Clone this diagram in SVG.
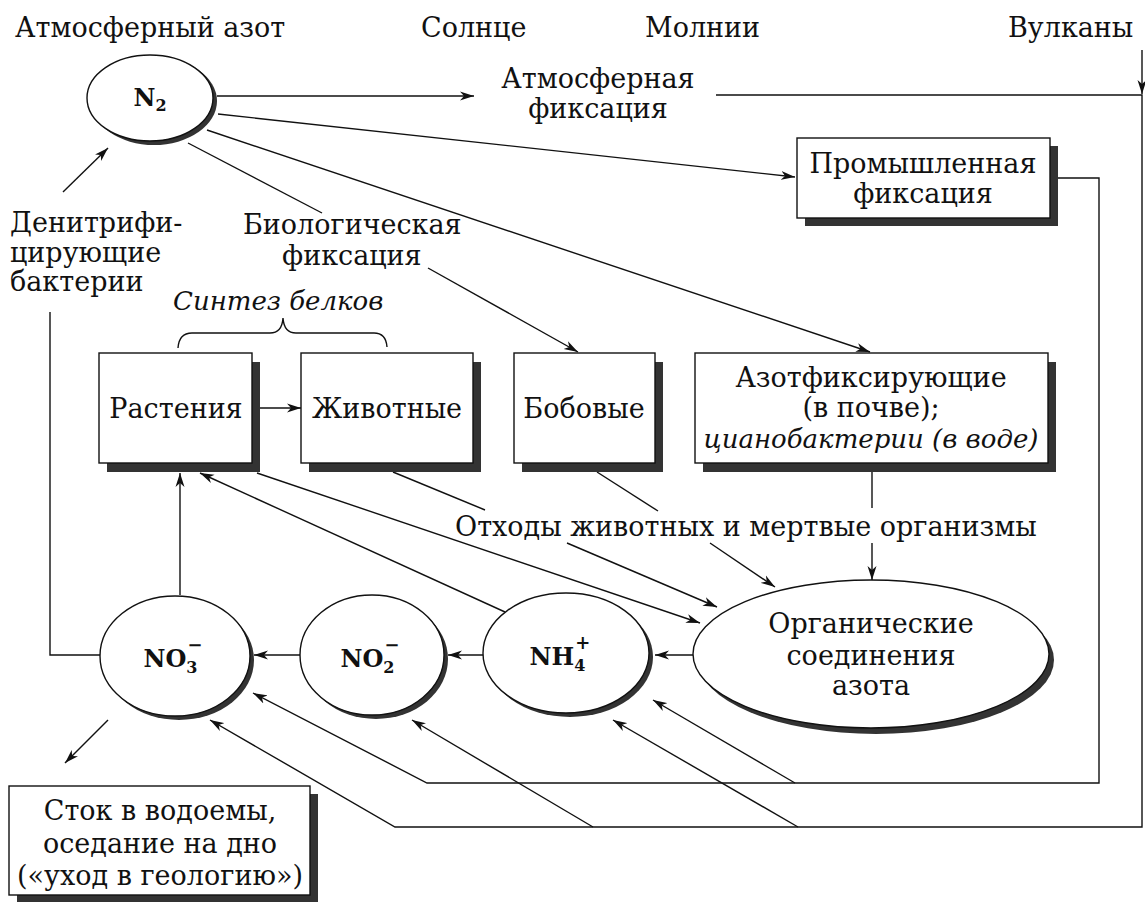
<svg xmlns="http://www.w3.org/2000/svg" width="1145" height="902" viewBox="0 0 1145 902">
<defs>
<style>
text{font-family:"DejaVu Serif","Liberation Serif",serif;font-size:27px;fill:#111}
.m{text-anchor:middle}
.i{font-style:italic;font-size:26px}
.b{font-weight:bold;font-size:24px}
.box{fill:#fff;stroke:#111;stroke-width:1.4}
.sh{fill:#333}
.ln{fill:none;stroke:#111;stroke-width:1.4}
</style>
<marker id="ar" markerUnits="userSpaceOnUse" markerWidth="16" markerHeight="10" refX="14" refY="5" orient="auto">
<path d="M0,0.5 L14,5 L0,9.5 L4,5 z" fill="#111"/>
</marker>
</defs>
<rect width="1145" height="902" fill="#fff"/>

<g id="labels">
<text x="15" y="37">Атмосферный азот</text>
<text x="421" y="37">Солнце</text>
<text x="645" y="37">Молнии</text>
<text x="1008" y="37">Вулканы</text>
<text class="m" x="598" y="88">Атмосферная</text>
<text class="m" x="598" y="118">фиксация</text>
<text x="10" y="232">Денитрифи-</text>
<text x="10" y="262">цирующие</text>
<text x="10" y="291">бактерии</text>
<text x="243" y="234">Биологическая</text>
<text x="282" y="265">фиксация</text>
<text class="i" x="173" y="310">Синтез белков</text>
<text x="455" y="536">Отходы животных и мертвые организмы</text>
</g>

<g id="connectors">
<path class="ln" d="M178,348 Q179,333 192,333 L270,333 Q282,333 283,318 Q284,333 296,333 L374,333 Q386,333 387,347"/>
<line class="ln" x1="217" y1="96" x2="474" y2="96" marker-end="url(#ar)"/>
<polyline class="ln" points="716,95 1142,95 1142,827 395,827 210,720" marker-end="url(#ar)"/>
<line class="ln" x1="1142" y1="50" x2="1142" y2="94" marker-end="url(#ar)"/>
<line class="ln" x1="218" y1="114" x2="795" y2="177" marker-end="url(#ar)"/>
<line class="ln" x1="207" y1="130" x2="870" y2="352" marker-end="url(#ar)"/>
<line class="ln" x1="188" y1="143" x2="322" y2="213"/>
<line class="ln" x1="428" y1="268" x2="578" y2="352" marker-end="url(#ar)"/>
<polyline class="ln" points="1050,178 1099,178 1099,783 427,783 253,693" marker-end="url(#ar)"/>
<line class="ln" x1="795" y1="783" x2="653" y2="700" marker-end="url(#ar)"/>
<line class="ln" x1="593" y1="827" x2="412" y2="720" marker-end="url(#ar)"/>
<line class="ln" x1="798" y1="827" x2="613" y2="720" marker-end="url(#ar)"/>
<line class="ln" x1="63" y1="192" x2="108" y2="148" marker-end="url(#ar)"/>
<polyline class="ln" points="100,655 50,655 50,312"/>
<line class="ln" x1="180" y1="595" x2="180" y2="473" marker-end="url(#ar)"/>
<line class="ln" x1="505" y1="612" x2="200" y2="473" marker-end="url(#ar)"/>
<line class="ln" x1="257" y1="473" x2="700" y2="623" marker-end="url(#ar)"/>
<line class="ln" x1="260" y1="408" x2="301" y2="408" marker-end="url(#ar)"/>
<line class="ln" x1="393" y1="472" x2="485" y2="510"/>
<line class="ln" x1="597" y1="472" x2="658" y2="511"/>
<line class="ln" x1="872" y1="472" x2="872" y2="508"/>
<line class="ln" x1="567" y1="543" x2="717" y2="607" marker-end="url(#ar)"/>
<line class="ln" x1="710" y1="543" x2="775" y2="587" marker-end="url(#ar)"/>
<line class="ln" x1="872" y1="543" x2="872" y2="580" marker-end="url(#ar)"/>
<line class="ln" x1="693" y1="655" x2="655" y2="655" marker-end="url(#ar)"/>
<line class="ln" x1="483" y1="655" x2="448" y2="655" marker-end="url(#ar)"/>
<line class="ln" x1="300" y1="655" x2="254" y2="655" marker-end="url(#ar)"/>
<line class="ln" x1="108" y1="720" x2="65" y2="763" marker-end="url(#ar)"/>
</g>

<g id="n2">
<ellipse class="sh" cx="154" cy="101" rx="63" ry="44"/>
<ellipse class="box" cx="150" cy="98" rx="63" ry="43"/>
<text class="b m" x="150" y="106">N<tspan font-size="16" dy="5">2</tspan></text>
</g>

<g id="industrial">
<rect class="sh" x="805" y="146" width="253" height="80"/>
<rect class="box" x="797" y="138" width="253" height="80"/>
<text class="m" x="923" y="173">Промышленная</text>
<text class="m" x="923" y="203">фиксация</text>
</g>

<g id="plants">
<rect class="sh" x="107" y="362" width="153" height="110"/>
<rect class="box" x="99" y="353" width="153" height="110"/>
<text class="m" x="176" y="418">Растения</text>
</g>

<g id="animals">
<rect class="sh" x="309" y="362" width="172" height="110"/>
<rect class="box" x="301" y="353" width="172" height="110"/>
<text class="m" x="387" y="418">Животные</text>
</g>

<g id="legumes">
<rect class="sh" x="522" y="362" width="141" height="110"/>
<rect class="box" x="514" y="353" width="141" height="110"/>
<text class="m" x="584" y="418">Бобовые</text>
</g>

<g id="fixers">
<rect class="sh" x="703" y="362" width="353" height="110"/>
<rect class="box" x="695" y="353" width="353" height="110"/>
<text class="m" x="871" y="387">Азотфиксирующие</text>
<text class="m" x="871" y="417">(в почве);</text>
<text class="m i" x="871" y="448">цианобактерии (в воде)</text>
</g>

<g id="organic">
<ellipse class="sh" cx="876" cy="660" rx="178" ry="74"/>
<ellipse class="box" cx="871" cy="654" rx="178" ry="74"/>
<text class="m" x="871" y="633">Органические</text>
<text class="m" x="871" y="665">соединения</text>
<text class="m" x="871" y="695">азота</text>
</g>

<g id="nh4">
<ellipse class="sh" cx="570" cy="657" rx="83" ry="60"/>
<ellipse class="box" cx="566" cy="653" rx="83" ry="60"/>
<text class="b m" x="560" y="665">NH<tspan font-size="16" dy="6">4</tspan><tspan font-size="18" dx="-10" dy="-22">+</tspan></text>
</g>

<g id="no2">
<ellipse class="sh" cx="376" cy="659" rx="72" ry="60"/>
<ellipse class="box" cx="372" cy="655" rx="72" ry="60"/>
<text class="b m" x="370" y="667">NO<tspan font-size="16" dy="6">2</tspan><tspan font-size="18" dx="-10" dy="-22">−</tspan></text>
</g>

<g id="no3">
<ellipse class="sh" cx="179" cy="660" rx="75" ry="60"/>
<ellipse class="box" cx="175" cy="656" rx="75" ry="60"/>
<text class="b m" x="173" y="667">NO<tspan font-size="16" dy="6">3</tspan><tspan font-size="18" dx="-10" dy="-22">−</tspan></text>
</g>

<g id="runoff">
<rect class="sh" x="17" y="794" width="301" height="108"/>
<rect class="box" x="9" y="786" width="301" height="109"/>
<text class="m" x="160" y="820">Сток в водоемы,</text>
<text class="m" x="160" y="853">оседание на дно</text>
<text class="m" x="160" y="885">(«уход в геологию»)</text>
</g>
</svg>
